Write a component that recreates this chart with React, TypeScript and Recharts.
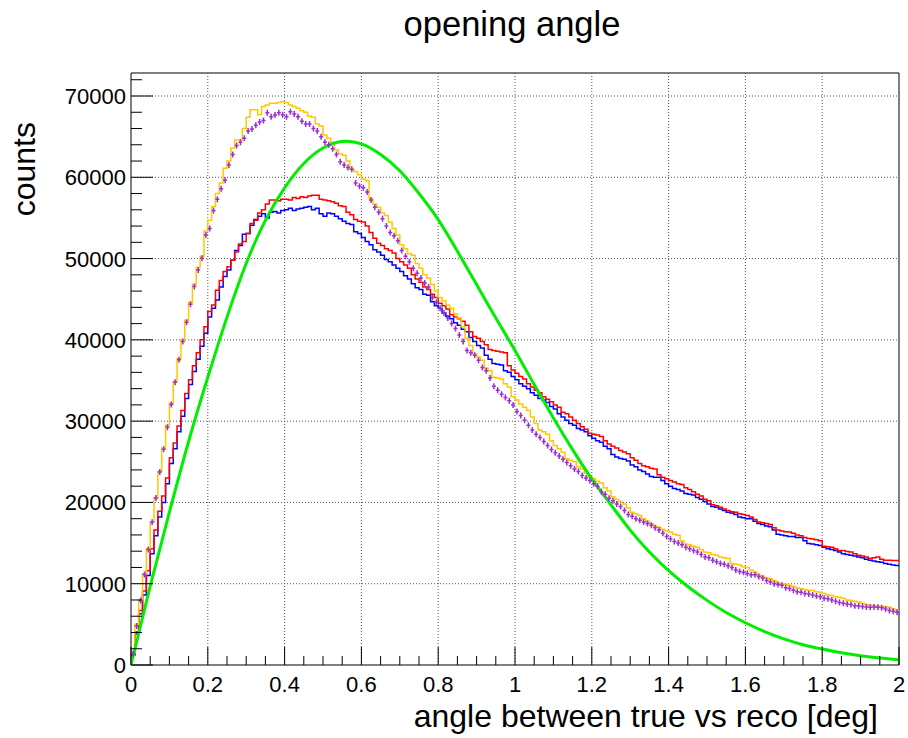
import React from "react";
import {
  ComposedChart,
  Line,
  Scatter,
  XAxis,
  YAxis,
  ReferenceLine,
  ReferenceArea,
} from "recharts";

// Histogram binning: 200 bins of 0.01 deg from 0 to 2 deg
const BIN_WIDTH = 0.01;
const X_MAX = 2;
const Y_MAX = 72830;

const yellowCounts = [
  1500, 5000, 8000, 11200, 14300, 17600, 20600, 23800, 26700, 29500,
  32200, 34900, 37700, 40000, 42400, 44600, 46800, 48900, 50300, 53400,
  54700, 56400, 58000, 59300, 61100, 62000, 63600, 64600, 64600, 66000,
  67400, 68300, 68300, 67700, 68700, 68900, 69100, 69100, 69200, 69300,
  69200, 68900, 68700, 68500, 68200, 68000, 67500, 67400, 66600, 66300,
  65200, 64800, 64300, 63400, 62900, 62700, 62000, 61000, 60700, 60300,
  59800, 59600, 57400, 56700, 56300, 55600, 55300, 54500, 53700, 52900,
  51700, 51200, 50600, 50400, 49400, 48800, 48000, 47600, 46800, 46000,
  45200, 44800, 44300, 43900, 43200, 42700, 41600, 40200, 39300, 38300,
  37900, 37500, 36500, 36200, 35400, 35300, 35200, 34600, 34200, 33000,
  32600, 32100, 31700, 31300, 30500, 29700, 28900, 28700, 28400, 27600,
  27000, 26600, 26200, 25400, 25200, 25000, 24400, 24100, 23600, 23200,
  22900, 22600, 22400, 21800, 21400, 20700, 20400, 20100, 19800, 19300,
  18800, 18600, 18400, 18000, 17700, 17400, 17100, 16950, 16700, 16500,
  16350, 16100, 15950, 15300, 14900, 14800, 14600, 14500, 14200, 13900,
  13800, 13600, 13500, 13300, 13200, 13100, 12500, 12400, 12300, 12100,
  12000, 11700, 11400, 11050, 10900, 10700, 10600, 10400, 10100, 10000,
  9900, 9800, 9700, 9500, 9400, 9300, 9200, 9150, 9000, 8950,
  8800, 8600, 8550, 8400, 8350, 8200, 8000, 7950, 7850, 7750,
  7600, 7450, 7350, 7300, 7250, 7200, 7150, 7100, 6900, 6800,
];

const redCounts = [
  1400, 4100, 6700, 9100, 11600, 14300, 16600, 18900, 20800, 23000,
  25500, 27300, 29400, 31300, 33400, 35100, 36800, 38400, 40000, 41600,
  43500, 44300, 46100, 47300, 48400, 49000, 49800, 50800, 51800, 52100,
  53100, 54300, 54700, 55600, 56000, 56700, 57200, 57200, 57100, 57300,
  57300, 57200, 57500, 57400, 57600, 57500, 57700, 57800, 57800, 57300,
  57200, 57100, 57000, 56800, 56500, 56400, 55700, 55400, 54800, 54600,
  54500, 54000, 53200, 52500, 51900, 51600, 51200, 51000, 50700, 50000,
  49600, 49200, 48800, 48000, 47500, 47100, 46500, 46200, 45600, 45200,
  44500, 44200, 43800, 43100, 42800, 42600, 42300, 41800, 41000, 40400,
  40200, 39800, 39400, 38800, 38700, 38600, 38500, 38400, 36800, 36300,
  35900, 35500, 35200, 34600, 34200, 33800, 33500, 33000, 32700, 32400,
  32000, 31700, 31100, 30900, 30500, 30100, 29700, 29300, 29000, 28500,
  28400, 28300, 28100, 27600, 27200, 26900, 26700, 26400, 26200, 26000,
  25500, 25200, 24800, 24500, 24400, 24200, 24100, 23400, 23100, 22900,
  22700, 22500, 22300, 22200, 21800, 21600, 21300, 21000, 20800, 20400,
  20200, 19700, 19600, 19400, 19200, 19000, 18850, 18800, 18600, 18500,
  18400, 18200, 17900, 17600, 17500, 17400, 17300, 16900, 16600, 16500,
  16400, 16350, 16200, 16000, 15900, 15700, 15550, 15500, 15400, 15300,
  14600, 14550, 14500, 14300, 14100, 14100, 13950, 13900, 13700, 13500,
  13400, 13300, 13100, 13200, 13300, 13000, 12900, 12900, 12870, 12870,
];

const blueCounts = [
  1200, 3800, 6300, 8600, 11000, 13700, 15900, 18200, 20000, 22300,
  24800, 26600, 28700, 30600, 32800, 34500, 36100, 37600, 39200, 40800,
  42800, 43900, 44900, 46500, 47800, 48600, 49800, 51000, 51600, 53000,
  53100, 54100, 54800, 55200, 55500, 55000, 55700, 55800, 55600, 55900,
  56000, 56200, 55900, 56100, 56200, 56300, 56400, 56000, 56200, 55500,
  55200, 55600, 55500, 55200, 54900, 54600, 54300, 54200, 53300, 53100,
  52600, 52100, 51700, 51100, 50800, 50400, 49900, 49600, 49200, 48800,
  48400, 47900, 47500, 46900, 46400, 46200, 45600, 45500, 44700, 44200,
  43900, 43300, 42900, 42600, 42100, 41800, 41300, 41000, 40300, 39800,
  39300, 39000, 38100, 37600, 37100, 37000, 36900, 36200, 36000, 35500,
  35100, 34600, 34300, 34000, 33500, 33200, 32800, 32600, 32300, 31800,
  31500, 30900, 30500, 30100, 29700, 29500, 29100, 28900, 28700, 28200,
  27900, 27600, 27400, 26900, 26600, 25900, 25600, 25400, 25300, 25100,
  24600, 24400, 24000, 23800, 23500, 23200, 23100, 23100, 22700, 22300,
  22000, 21700, 21600, 21400, 21100, 21000, 20900, 20600, 20400, 20100,
  19800, 19500, 19400, 19200, 19000, 18800, 18700, 18500, 18200, 18100,
  18000, 18000, 17700, 17400, 17300, 17100, 17000, 16600, 16100, 16000,
  15900, 15800, 15800, 15700, 15700, 15300, 14950, 14900, 14800, 14700,
  14500, 14300, 14200, 14100, 13900, 13700, 13600, 13500, 13400, 13300,
  13200, 13000, 12900, 12800, 12700, 12650, 12500, 12400, 12300, 12250,
];

// Data points with error bars, one per bin centre
const purpleCounts = [
  1390, 4800, 7950, 11140, 14200, 17570, 20550, 23750, 26550, 29240,
  32060, 34800, 37550, 39800, 42180, 44390, 46560, 48600, 50040, 52900,
  53700, 55900, 57300, 58600, 59650, 61500, 62800, 63900, 64300, 64800,
  65700, 65950, 66400, 66800, 67000, 67950, 67450, 67650, 67950, 67700,
  67450, 68050, 67800, 67450, 66900, 66550, 66550, 66000, 65700, 65000,
  64300, 64000, 63500, 62800, 61900, 61500, 61200, 61000, 59300, 58900,
  58700, 58200, 57200, 56300, 55700, 54900, 54000, 53200, 52800, 52200,
  51000, 50300, 49600, 48800, 48200, 47600, 47000, 46500, 45200, 44600,
  43900, 43300, 42700, 42000, 41400, 40600, 39800, 38700, 38400, 38100,
  37500, 36600, 36200, 35300, 34300, 33800, 33300, 32900, 32500, 32000,
  31200, 30700, 30100, 29500, 28900, 28400, 28000, 27500, 27000, 26500,
  26100, 25700, 25300, 24900, 24500, 24100, 23800, 23300, 23000, 22700,
  22300, 22000, 21300, 21000, 20500, 20200, 19800, 19500, 19000, 18500,
  18300, 18000, 17800, 17600, 17400, 17200, 16900, 16600, 16200, 15800,
  15500, 15200, 15000, 14800, 14500, 14300, 14100, 13900, 13600, 13300,
  13200, 12900, 12700, 12500, 12400, 12200, 12000, 11700, 11500, 11400,
  11250, 11100, 11100, 10900, 10700, 10400, 10200, 10000, 9900, 9800,
  9500, 9400, 9200, 9000, 8950, 8800, 8750, 8600, 8500, 8400,
  8200, 8150, 8000, 7850, 7700, 7600, 7500, 7450, 7300, 7250,
  7200, 7150, 7100, 7120, 7100, 7050, 6900, 6700, 6600, 6500,
];

// Smooth reference curve sampled every 0.05 deg
const greenAngles = [
  0, 0.05, 0.1, 0.15, 0.2, 0.25, 0.3, 0.35, 0.4, 0.45,
  0.5, 0.55, 0.6, 0.65, 0.7, 0.75, 0.8, 0.85, 0.9, 0.95,
  1.0, 1.05, 1.1, 1.15, 1.2, 1.25, 1.3, 1.35, 1.4, 1.45,
  1.5, 1.55, 1.6, 1.65, 1.7, 1.75, 1.8, 1.85, 1.9, 1.95, 2.0,
];
const greenCounts = [
  0, 9700, 18800, 27500, 35400, 42800, 49400, 54700, 58700, 61700,
  63600, 64400, 64100, 62800, 60800, 58000, 54800, 50900, 46800, 42700,
  38700, 34500, 30400, 26500, 22900, 19700, 16600, 13900, 11600, 9650,
  7950, 6450, 5200, 4120, 3220, 2500, 1960, 1500, 1140, 860, 640,
];

const xMajorTicks = [0, 0.2, 0.4, 0.6, 0.8, 1, 1.2, 1.4, 1.6, 1.8, 2];
const yMajorTicks = [0, 10000, 20000, 30000, 40000, 50000, 60000, 70000];
const xTickLabels = ["0", "0.2", "0.4", "0.6", "0.8", "1", "1.2", "1.4", "1.6", "1.8", "2"];
const yTickLabels = ["0", "10000", "20000", "30000", "40000", "50000", "60000", "70000"];

const FONT = '"Liberation Sans", Arial, Helvetica, sans-serif';
const PLOT_LEFT = 131;
const PLOT_BOTTOM = 665;

// x ticks every 0.05, y ticks every 2000
const xAllTicks: number[] = [];
for (let i = 0; i <= 40; i++) xAllTicks.push(Math.round(i * 5) / 100);
const yAllTicks: number[] = [];
for (let i = 0; i <= 36; i++) yAllTicks.push(i * 2000);

const histRows = yellowCounts.map((_, k) => ({
  x: k * BIN_WIDTH,
  yellow: yellowCounts[k],
  red: redCounts[k],
  blue: blueCounts[k],
}));
histRows.push({
  x: X_MAX,
  yellow: yellowCounts[yellowCounts.length - 1],
  red: redCounts[redCounts.length - 1],
  blue: blueCounts[blueCounts.length - 1],
});

const purpleRows = purpleCounts.map((v, k) => ({
  x: (k + 0.5) * BIN_WIDTH,
  purple: v,
}));

const greenRows = greenAngles.map((a, i) => ({ x: a, green: greenCounts[i] }));

const renderXTick = (props: any) => {
  const { x, payload } = props;
  const v = payload.value as number;
  const majorIdx = xMajorTicks.findIndex((m) => Math.abs(m - v) < 1e-6);
  const major = majorIdx >= 0;
  return (
    <g key={`xt${v}`}>
      <line
        x1={x}
        x2={x}
        y1={PLOT_BOTTOM}
        y2={PLOT_BOTTOM - (major ? 18 : 9)}
        stroke="#000"
        strokeWidth={1}
      />
      {major && (
        <text
          x={x}
          y={PLOT_BOTTOM + 27}
          textAnchor="middle"
          fontSize={22}
          fontFamily={FONT}
          fill="#000"
        >
          {xTickLabels[majorIdx]}
        </text>
      )}
    </g>
  );
};

const renderYTick = (props: any) => {
  const { y, payload } = props;
  const v = payload.value as number;
  const majorIdx = yMajorTicks.indexOf(v);
  const major = majorIdx >= 0;
  return (
    <g key={`yt${v}`}>
      <line
        x1={PLOT_LEFT}
        x2={PLOT_LEFT + (major ? 22 : 11)}
        y1={y}
        y2={y}
        stroke="#000"
        strokeWidth={1}
      />
      {major && (
        <text
          x={PLOT_LEFT - 5}
          y={y + 8}
          textAnchor="end"
          fontSize={22}
          fontFamily={FONT}
          fill="#000"
        >
          {yTickLabels[majorIdx]}
        </text>
      )}
    </g>
  );
};

const PointWithError = (props: any) => {
  const { cx, cy } = props;
  if (cx == null || cy == null) return null;
  return (
    <path
      d={`M${cx - 2},${cy}H${cx + 2}M${cx},${cy - 3}V${cy + 3}`}
      stroke="#9b2fd0"
      strokeWidth={1.5}
      fill="none"
    />
  );
};

export default function App() {
  return (
    <div
      style={{
        position: "absolute",
        left: 0,
        top: 0,
        width: 908,
        height: 738,
        background: "#fff",
      }}
    >
      <ComposedChart
        width={908}
        height={738}
        data={histRows}
        margin={{ top: 73, right: 9, bottom: 43, left: 71 }}
      >
        <XAxis
          type="number"
          dataKey="x"
          domain={[0, X_MAX]}
          allowDataOverflow
          ticks={xAllTicks}
          interval={0}
          tick={renderXTick}
          tickLine={false}
          axisLine={false}
          tickSize={0}
          height={30}
        />
        <YAxis
          type="number"
          domain={[0, Y_MAX]}
          allowDataOverflow
          ticks={yAllTicks}
          interval={0}
          tick={renderYTick}
          tickLine={false}
          axisLine={false}
          tickSize={0}
          width={60}
        />
        {xMajorTicks.slice(1, -1).map((v) => (
          <ReferenceLine
            key={`gx${v}`}
            x={v}
            stroke="#555"
            strokeDasharray="1 2"
            strokeWidth={1}
          />
        ))}
        {yMajorTicks.slice(1).map((v) => (
          <ReferenceLine
            key={`gy${v}`}
            y={v}
            stroke="#555"
            strokeDasharray="1 2"
            strokeWidth={1}
          />
        ))}
        <Line
          dataKey="blue"
          type="stepAfter"
          stroke="#0000ff"
          strokeWidth={1.5}
          dot={false}
          isAnimationActive={false}
        />
        <Line
          dataKey="red"
          type="stepAfter"
          stroke="#ff0000"
          strokeWidth={1.5}
          dot={false}
          isAnimationActive={false}
        />
        <Line
          dataKey="yellow"
          type="stepAfter"
          stroke="#ffc800"
          strokeWidth={1.5}
          dot={false}
          isAnimationActive={false}
        />
        <Scatter
          data={purpleRows}
          dataKey="purple"
          shape={PointWithError}
          isAnimationActive={false}
        />
        <Line
          data={greenRows}
          dataKey="green"
          type="natural"
          stroke="#00ee00"
          strokeWidth={3}
          dot={false}
          isAnimationActive={false}
        />
        <ReferenceArea
          x1={0}
          x2={X_MAX}
          y1={0}
          y2={Y_MAX}
          fill="none"
          fillOpacity={0}
          stroke="#000"
          strokeWidth={1}
        />
      </ComposedChart>
      <svg
        width={908}
        height={738}
        style={{ position: "absolute", left: 0, top: 0, pointerEvents: "none" }}
      >
        <text
          x={512}
          y={36}
          textAnchor="middle"
          fontSize={34.5}
          fontFamily={FONT}
          fill="#000"
        >
          opening angle
        </text>
        <text
          transform="translate(35,122) rotate(-90)"
          textAnchor="end"
          fontSize={32}
          fontFamily={FONT}
          fill="#000"
        >
          counts
        </text>
        <text
          x={878}
          y={727}
          textAnchor="end"
          fontSize={32}
          fontFamily={FONT}
          fill="#000"
        >
          angle between true vs reco [deg]
        </text>
      </svg>
    </div>
  );
}
